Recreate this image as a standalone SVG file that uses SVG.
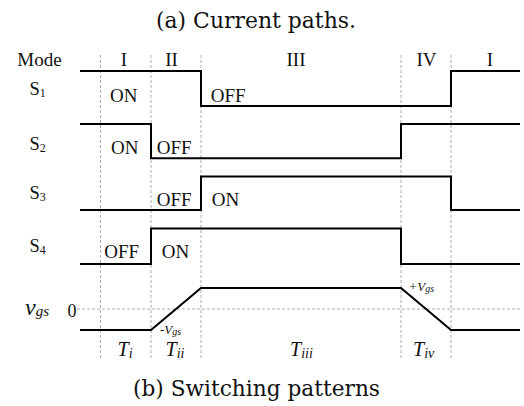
<svg xmlns="http://www.w3.org/2000/svg" width="524" height="406" viewBox="0 0 524 406">
<style>
.cap{font-family:"DejaVu Serif","Liberation Serif",serif;font-size:21.5px;fill:#111}
.t{font-family:"Liberation Serif","Times New Roman",serif;font-size:19px;fill:#111}
.s{font-family:"Liberation Serif","Times New Roman",serif;font-size:18.5px;fill:#111}
.sub{font-size:12px}
.it{font-family:"Liberation Serif","Times New Roman",serif;font-style:italic;fill:#111}
.grid{stroke:#ababab;stroke-width:1;stroke-dasharray:3 2;fill:none}
.sig{stroke:#000;stroke-width:2;fill:none;stroke-linejoin:miter}
</style>
<rect width="524" height="406" fill="#fff"/>
<text class="cap" x="156" y="28" textLength="200" lengthAdjust="spacingAndGlyphs">(a) Current paths.</text>

<g id="grid">
<line class="grid" x1="100.5" y1="55" x2="100.5" y2="358"/>
<line class="grid" x1="151" y1="55" x2="151" y2="358"/>
<line class="grid" x1="201" y1="55" x2="201" y2="358"/>
<line class="grid" x1="401" y1="55" x2="401" y2="358"/>
<line class="grid" x1="451" y1="55" x2="451" y2="358"/>
<line class="grid" x1="77" y1="309" x2="520" y2="309"/>
</g>

<g id="modes">
<text class="t" x="17.3" y="66">Mode</text>
<text class="t" x="124" y="66" text-anchor="middle">I</text>
<text class="t" x="171.5" y="66" text-anchor="middle">II</text>
<text class="t" x="296" y="66" text-anchor="middle">III</text>
<text class="t" x="426.5" y="66" text-anchor="middle">IV</text>
<text class="t" x="490" y="66" text-anchor="middle">I</text>
</g>

<g id="S1">
<text class="s" x="29.5" y="94.5">S<tspan class="sub" dy="2">1</tspan></text>
<path class="sig" d="M80 71H201V106H451V71H520"/>
<text class="t" x="110" y="101.5">ON</text>
<text class="t" x="210.7" y="101.5">OFF</text>
</g>

<g id="S2">
<text class="s" x="29.5" y="150">S<tspan class="sub" dy="2">2</tspan></text>
<path class="sig" d="M80 124H151V158.3H401V124H520"/>
<text class="t" x="111" y="154">ON</text>
<text class="t" x="156.7" y="154">OFF</text>
</g>

<g id="S3">
<text class="s" x="29.5" y="199">S<tspan class="sub" dy="2">3</tspan></text>
<path class="sig" d="M80 210H201V176.5H451V210H520"/>
<text class="t" x="156.7" y="206">OFF</text>
<text class="t" x="211.7" y="206">ON</text>
</g>

<g id="S4">
<text class="s" x="29.5" y="251.7">S<tspan class="sub" dy="2">4</tspan></text>
<path class="sig" d="M80 264H151V228.5H401V264H520"/>
<text class="t" x="104.3" y="258.3">OFF</text>
<text class="t" x="161.7" y="258.3">ON</text>
</g>

<g id="vgs">
<text class="it" x="25" y="315" font-size="24">v<tspan font-size="15" dy="1">gs</tspan></text>
<text class="t" x="67.5" y="317" style="font-size:18px">0</text>
<path class="sig" d="M80 330H151L201 288H401L451 330H520"/>
<text class="it" x="160" y="333.5" font-size="13">-V<tspan font-size="10" dy="1">gs</tspan></text>
<text class="it" x="408.5" y="290.5" font-size="13">+V<tspan font-size="10" dy="1.5">gs</tspan></text>
</g>

<g id="periods">
<text class="it" x="117.5" y="355.5" font-size="20">T<tspan font-size="14" dy="2">i</tspan></text>
<text class="it" x="165.5" y="355.5" font-size="20">T<tspan font-size="14" dy="2">ii</tspan></text>
<text class="it" x="290" y="355.5" font-size="20">T<tspan font-size="14" dy="2">iii</tspan></text>
<text class="it" x="413" y="355.5" font-size="20">T<tspan font-size="14" dy="2">iv</tspan></text>
</g>

<text class="cap" x="133" y="396" textLength="247" lengthAdjust="spacingAndGlyphs">(b) Switching patterns</text>
</svg>
